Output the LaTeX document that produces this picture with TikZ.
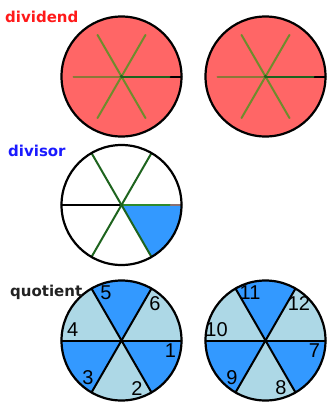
\documentclass[tikz,border=0pt]{standalone}
\usepackage{fontspec}
\setmainfont{DejaVu Sans}
\newfontfamily\numfont{Liberation Sans}
\definecolor{Canvas}{HTML}{FFFFFF}
\definecolor{Dividend}{HTML}{FF6666}
\definecolor{RedTitle}{HTML}{FF1A1A}
\definecolor{BlueTitle}{HTML}{1A1AFF}
\definecolor{QuotTitle}{HTML}{222222}
\definecolor{Olive}{HTML}{6E8C2C}
\definecolor{Umber}{HTML}{8C7838}
\definecolor{Spoke}{HTML}{1E641E}
\definecolor{Leaf}{HTML}{2E8A2E}
\definecolor{Tip}{HTML}{8A7070}
\definecolor{Deep}{HTML}{3399FF}
\definecolor{Pale}{HTML}{ADD8E6}
\begin{document}
\begin{tikzpicture}[x=1pt,y=1pt,rim/.style={draw=black, line width=2.2pt},spoke/.style={line width=2pt, line cap=round},titletext/.style={font=\fontsize{15}{18}\selectfont\bfseries, anchor=base west, inner sep=0pt},numtext/.style={font=\numfont\fontsize{20}{23}\selectfont, inner sep=0pt, text=black}]
\useasboundingbox (0,0) rectangle (328,-402);
\fill[Canvas] (0,0) rectangle (328,-402);
\foreach \cx in {121.5,265.5} {
  \fill[Dividend] (\cx,-76.5) circle (60);
  \draw[spoke, black] (\cx,-76.5) -- ++(0:60);
  \foreach \a in {60,120,240,300} \draw[spoke, Olive] (\cx,-76.5) -- ++(\a:48);
  \draw[spoke, Umber] (\cx,-76.5) -- ++(180:48);
  \draw[spoke, Spoke] (\cx,-76.5) -- ++(0:48);
  \fill[Spoke] (\cx,-76.5) circle (1.8);
  \draw[rim] (\cx,-76.5) circle (60);
}
\fill[Deep] (121.5,-205) -- ++(0:60) arc[start angle=0, end angle=-60, radius=60] -- cycle;
\draw[spoke, black] (121.5,-205) -- ++(180:60);
\draw[spoke, Tip] (121.5,-205) -- ++(0:60);
\draw[spoke, Leaf] (121.5,-205) -- ++(0:48);
\foreach \a in {60,120,240,300} \draw[spoke, Spoke] (121.5,-205) -- ++(\a:60);
\fill[Spoke] (121.5,-205) circle (1.8);
\draw[rim] (121.5,-205) circle (60);
\foreach \cx/\off in {121.5/0,265.5/6} {
  \foreach \k/\col in {1/Deep,2/Pale,3/Deep,4/Pale,5/Deep,6/Pale}
    \fill[\col] (\cx,-340.5) -- ++({-60*(\k-1)}:60) arc[start angle={-60*(\k-1)}, end angle={-60*\k}, radius=60] -- cycle;
  \foreach \a in {0,60,120} \draw[spoke, black] (\cx,-340.5) ++(\a:60) -- ++({\a+180}:120);
  \fill[black] (\cx,-340.5) circle (1.8);
  \draw[rim] (\cx,-340.5) circle (60);
  \foreach \k [evaluate=\k as \n using int(\k+\off)] in {1,...,6}
    \node[numtext] (num\n) at ([shift={({-12-60*(\k-1)}:50)}]\cx,-340.5) {\n};
}
\node[titletext, text=RedTitle] (dividend) at (5,-22.5) {dividend};
\node[titletext, text=BlueTitle] (divisor) at (8,-156.5) {divisor};
\node[titletext, text=QuotTitle] (quotient) at (10,-296) {quotient};
\end{tikzpicture}
\end{document}
